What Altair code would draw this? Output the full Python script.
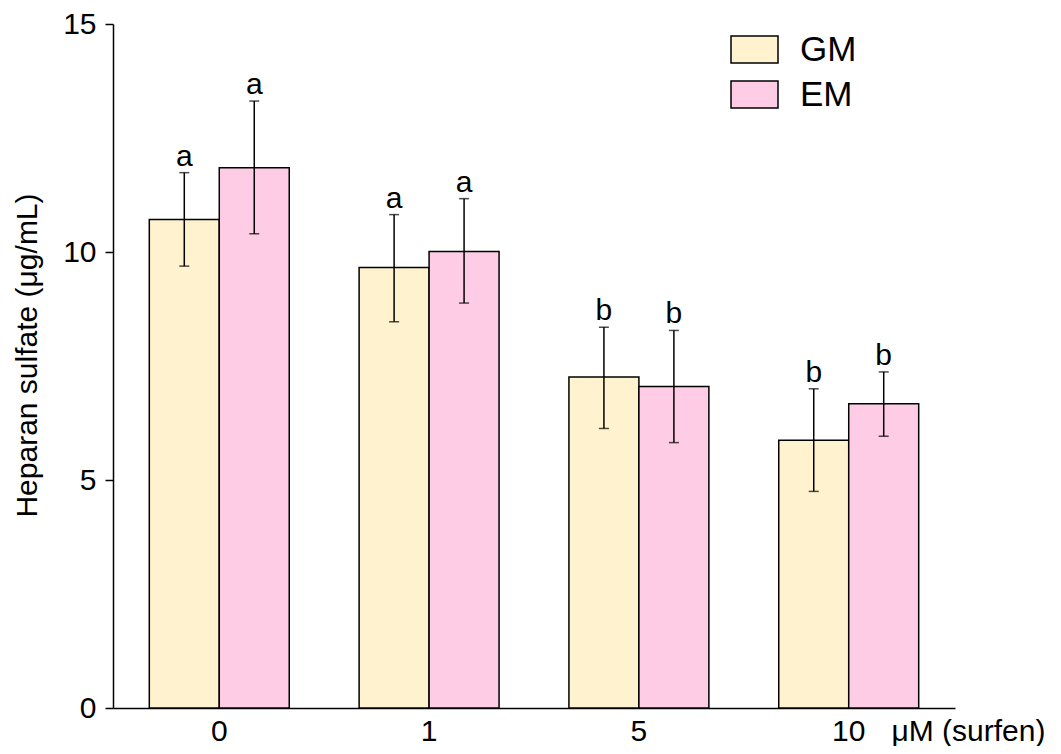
import altair as alt
import pandas as pd

# ---- data ----
conc = ["0", "1", "5", "10"]
media = ["GM", "EM"]
gm_mean = [10.71, 9.66, 7.26, 5.87]
gm_upper = [11.74, 10.82, 8.35, 7.00]
gm_lower = [9.69, 8.47, 6.13, 4.75]
em_mean = [11.85, 10.01, 7.05, 6.67]
em_upper = [13.31, 11.17, 8.28, 7.37]
em_lower = [10.40, 8.88, 5.82, 5.96]
gm_letters = ["a", "a", "b", "b"]
em_letters = ["a", "a", "b", "b"]
colors = ["#FFF2CF", "#FFCCE6"]

rows = []
for i, c in enumerate(conc):
    rows.append(dict(conc=c, medium="GM", mean=gm_mean[i], upper=gm_upper[i],
                     lower=gm_lower[i], letter=gm_letters[i]))
    rows.append(dict(conc=c, medium="EM", mean=em_mean[i], upper=em_upper[i],
                     lower=em_lower[i], letter=em_letters[i]))
df = pd.DataFrame(rows)

FONT = "Liberation Sans"
YTITLE = "Heparan sulfate (μg/mL)"

xenc = alt.X(
    "conc:N", sort=conc,
    scale=alt.Scale(paddingInner=0.333, paddingOuter=0.173),
    axis=alt.Axis(
        title="μM (surfen)", labelAngle=0, ticks=False, labelFontSize=30,
        labelPadding=8, domainWidth=1.5, domainColor="black",
        labelColor="black", labelFont=FONT,
        titleFont=FONT, titleFontSize=30, titleFontWeight="normal",
        titleX=778, titleY=32, titleAlign="left", titleBaseline="alphabetic",
        titleColor="black",
    ),
)
xoff = alt.XOffset("medium:N", sort=media,
                   scale=alt.Scale(paddingInner=0, paddingOuter=0))

yaxis = alt.Axis(
    title=YTITLE, values=[0, 5, 10, 15], grid=False, tickSize=8, tickWidth=1.5,
    tickColor="black", domainWidth=1.5, domainColor="black",
    labelFontSize=30, labelPadding=9, labelColor="black", labelFont=FONT,
    titleFont=FONT, titleFontSize=30, titleFontWeight="normal",
    titleColor="black", titleX=-86, titleY=331, titleAlign="center",
    titleBaseline="middle", titleAngle=270,
)
yscale = alt.Scale(domain=[0, 15], nice=False)

base = alt.Chart(df).encode(x=xenc, xOffset=xoff)

bars = base.mark_bar(stroke="black", strokeWidth=1.5).encode(
    y=alt.Y("mean:Q", scale=yscale, axis=yaxis, title=YTITLE),
    fill=alt.Fill(
        "medium:N", sort=media,
        scale=alt.Scale(domain=media, range=colors),
        legend=alt.Legend(
            title=None, orient="none", legendX=617, legendY=1, padding=0,
            symbolType="M-1,-0.575L1,-0.575L1,0.575L-1,0.575Z",
            symbolSize=2209, symbolStrokeColor="black", symbolStrokeWidth=1.5,
            labelFontSize=35, labelFont=FONT, labelColor="black",
            labelOffset=21, rowPadding=2,
        ),
    ),
)

rules = base.mark_rule(color="black", strokeWidth=1.5).encode(
    y=alt.Y("lower:Q", scale=yscale, axis=yaxis, title=YTITLE),
    y2="upper:Q",
)
cap_top = base.mark_tick(color="black", thickness=1.5, size=10,
                         orient="horizontal").encode(
    y=alt.Y("upper:Q", scale=yscale, axis=yaxis, title=YTITLE))
cap_bot = base.mark_tick(color="black", thickness=1.5, size=10,
                         orient="horizontal").encode(
    y=alt.Y("lower:Q", scale=yscale, axis=yaxis, title=YTITLE))
letters = base.mark_text(fontSize=30, font=FONT, dy=-7, baseline="alphabetic",
                         color="black").encode(
    y=alt.Y("upper:Q", scale=yscale, axis=yaxis, title=YTITLE),
    text="letter:N",
)

chart = alt.layer(bars, rules, cap_top, cap_bot, letters).properties(
    width=842, height=684,
    padding={"left": 105, "top": 16, "right": 98, "bottom": 38},
    autosize=alt.AutoSizeParams(type="none"),
).configure(font=FONT).configure_view(stroke=None)

chart.save("out.html", embed_options={"renderer": "svg", "actions": False})
